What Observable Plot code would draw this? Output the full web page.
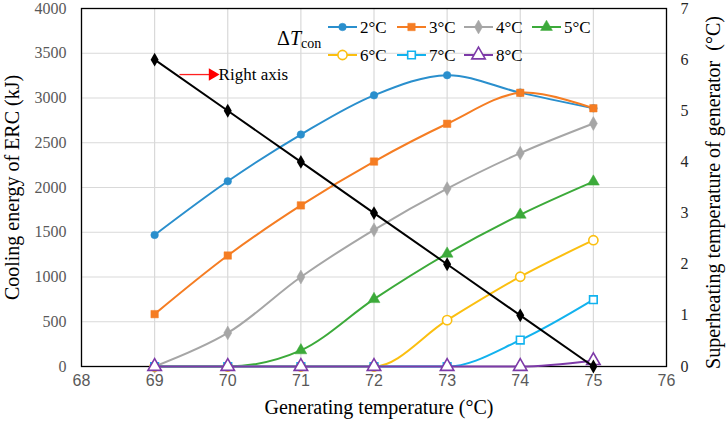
<!DOCTYPE html>
<html><head><meta charset="utf-8">
<script src="https://cdn.jsdelivr.net/npm/d3@7"></script>
<script src="https://cdn.jsdelivr.net/npm/@observablehq/plot@0.6"></script>
<style>body{margin:0;background:#fff}</style>
</head><body><div id="chart"></div>
<script>
// ---- data ----
const gens = [69, 70, 71, 72, 73, 74, 75];
const s2 = [1470, 2070, 2592, 3030, 3255, 3060, 2885];
const s3 = [585, 1240, 1800, 2290, 2712, 3058, 2885];
const s4 = [0, 375, 1000, 1527, 1987, 2384, 2715];
const s5 = [0, 0, 180, 752, 1260, 1695, 2065];
const s6 = [0, 0, 0, 0, 518, 1003, 1411];
const s7 = [0, 0, 0, 0, 0, 295, 747];
const s8 = [0, 0, 0, 0, 0, 0, 65];
const superheat = [6, 5, 4, 3, 2, 1, 0];
const seriesNames = ["2°C", "3°C", "4°C", "5°C", "6°C", "7°C", "8°C"];
const xTicks = [68, 69, 70, 71, 72, 73, 74, 75, 76];
const yTicks = [0, 500, 1000, 1500, 2000, 2500, 3000, 3500, 4000];
const rightTicks = [0, 1, 2, 3, 4, 5, 6, 7];
const annotation = [{x1: 69.34, x2: 69.76, xt: 69.79, xl: 69.875, y: 3262, label: "Right axis"}];

const serif = "'Liberation Serif', 'Times New Roman', serif";
const sans = "'Liberation Sans', Arial, sans-serif";
const K = 4000 / 7;

const styles = [
  {color: "#2a8fcd", symbol: "circle", hollow: false, r: 3.8, curve: "catmull-rom"},
  {color: "#f57d23", symbol: "square", hollow: false, r: 4.2, curve: "catmull-rom"},
  {color: "#a6a6a6", symbol: "diamond", hollow: false, r: 4.2, curve: "catmull-rom"},
  {color: "#3caa3a", symbol: "triangle", hollow: false, r: 4.4, curve: "monotone-x"},
  {color: "#fbbf10", symbol: "circle", hollow: true, r: 4.6, curve: "monotone-x"},
  {color: "#12b2ee", symbol: "square", hollow: true, r: 4.3, curve: "monotone-x"},
  {color: "#7d3aa8", symbol: "triangle", hollow: true, r: 5, curve: "monotone-x"}
];
const allValues = [s2, s3, s4, s5, s6, s7, s8];
const series = seriesNames.map((name, k) => ({name, values: allValues[k], ...styles[k]}));

const seriesMarks = series.flatMap(s => {
  const rows = gens.map((g, i) => ({x: g, y: s.values[i]}));
  return [
    Plot.line(rows, {x: "x", y: "y", stroke: s.color, strokeWidth: 2, curve: s.curve}),
    Plot.dot(rows, {x: "x", y: "y", symbol: s.symbol, r: s.r,
      fill: s.hollow ? "white" : s.color, stroke: s.color, strokeWidth: s.hollow ? 1.6 : 0.5})
  ];
});
const blackRows = gens.map((g, i) => ({x: g, y: superheat[i] * K}));

const svg = Plot.plot({
  width: 726, height: 425,
  marginLeft: 81, marginRight: 60, marginTop: 8, marginBottom: 59,
  style: {background: "white", fontFamily: serif},
  x: {domain: [68, 76]},
  y: {domain: [0, 4000]},
  marks: [
    Plot.gridX(xTicks, {stroke: "#d9d9d9", strokeOpacity: 1, strokeWidth: 1.2}),
    Plot.gridY(yTicks, {stroke: "#d9d9d9", strokeOpacity: 1, strokeWidth: 1.2}),
    Plot.frame({stroke: "#000", strokeWidth: 1.3}),
    Plot.axisY(yTicks, {anchor: "left", tickSize: 0, tickPadding: 15, fontFamily: serif, fontSize: 16, color: "#595959", label: null, tickFormat: d => String(d)}),
    Plot.axisY(rightTicks.map(v => v * K), {anchor: "right", tickSize: 0, tickPadding: 14, fontFamily: serif, fontSize: 16, color: "#262626", label: null, tickFormat: d => String(Math.round(d / K))}),
    Plot.axisX(xTicks, {tickSize: 0, tickPadding: 8, fontFamily: sans, fontSize: 16, color: "#595959", label: null, tickFormat: d => String(d)}),
    Plot.text(["Cooling energy of ERC (kJ)"], {frameAnchor: "left", textAnchor: "middle", rotate: -90, dx: -69, fontSize: 20, fontFamily: serif, fill: "#000"}),
    Plot.text(["Superheating temperature of generator  (°C)"], {frameAnchor: "right", textAnchor: "middle", rotate: -90, dx: 47, dy: 5, fontSize: 20, fontFamily: serif, fill: "#000"}),
    Plot.text(["Generating temperature (°C)"], {frameAnchor: "bottom", textAnchor: "middle", dy: 47, dx: 5, fontSize: 20, fontFamily: serif, fill: "#000"}),
    ...seriesMarks,
    Plot.line(blackRows, {x: "x", y: "y", stroke: "#000", strokeWidth: 2}),
    Plot.dot(blackRows, {x: "x", y: "y", symbol: "diamond", r: 4.2, fill: "#000"}),
    Plot.link(annotation, {x1: "x1", x2: "x2", y1: "y", y2: "y", stroke: "#ff2020", strokeWidth: 1.3}),
    Plot.dot(annotation, {x: "xt", y: "y", symbol: "triangle", rotate: 90, r: 4.6, fill: "#ff0000"}),
    Plot.text(annotation, {x: "xl", y: "y", text: "label", textAnchor: "start", fontSize: 17, fontFamily: serif, fill: "#000"})
  ]
});
document.getElementById("chart").appendChild(svg);

// ---- legend (inside plot area, drawn on the same svg) ----
const g = d3.select(svg).append("g").attr("font-family", serif).attr("text-anchor", "start");
const title = g.append("text").attr("x", 277).attr("y", 45).attr("font-size", 20).attr("fill", "#000");
title.append("tspan").text("Δ");
title.append("tspan").attr("font-style", "italic").text("T");
title.append("tspan").attr("font-size", 14).attr("dy", 3).text("con");
const symMap = {circle: d3.symbolCircle, square: d3.symbolSquare, diamond: d3.symbolDiamond, triangle: d3.symbolTriangle};
const colX = [328, 397, 464, 532];
const rowY = [27, 55];
series.forEach((s, k) => {
  const x0 = colX[k % 4], y0 = rowY[Math.floor(k / 4)];
  g.append("line").attr("x1", x0).attr("x2", x0 + 29).attr("y1", y0).attr("y2", y0)
    .attr("stroke", s.color).attr("stroke-width", 2);
  g.append("path").attr("d", d3.symbol(symMap[s.symbol], Math.PI * s.r * s.r)())
    .attr("transform", `translate(${x0 + 14.5},${y0})`)
    .attr("fill", s.hollow ? "white" : s.color).attr("stroke", s.color).attr("stroke-width", s.hollow ? 1.6 : 0.5);
  g.append("text").attr("x", x0 + 32).attr("y", y0).attr("dy", "0.35em").attr("font-size", 17).attr("fill", "#000").text(s.name);
});
</script>
</body></html>
